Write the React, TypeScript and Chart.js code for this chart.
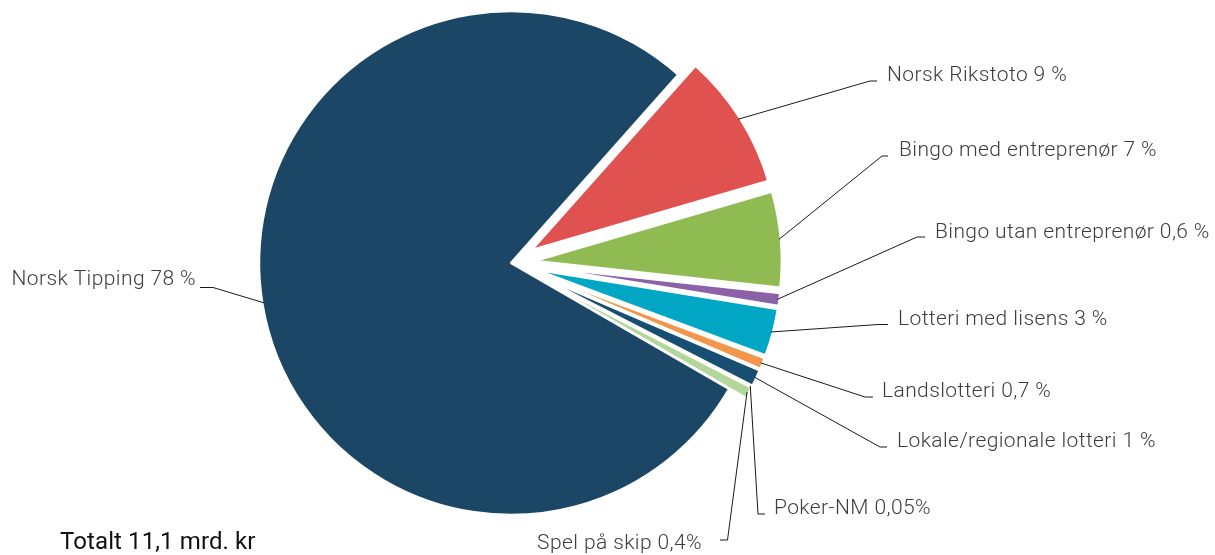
import { useEffect, useRef } from "react";
import { Chart, registerables } from "chart.js";

Chart.register(...registerables);

// ---- data (slice sizes) ----
const categories = [
  "Norsk Rikstoto",
  "Bingo med entreprenør",
  "Bingo utan entreprenør",
  "Lotteri med lisens",
  "Landslotteri",
  "Lokale/regionale lotteri",
  "Poker-NM",
  "Spel på skip",
  "Norsk Tipping",
];
const shares = [8.9, 6.25, 0.85, 3.1, 0.75, 1.1, 0.05, 0.75, 78.2];
const labelTexts = [
  "Norsk Rikstoto 9 %",
  "Bingo med entreprenør 7 %",
  "Bingo utan entreprenør 0,6 %",
  "Lotteri med lisens 3 %",
  "Landslotteri 0,7 %",
  "Lokale/regionale lotteri 1 %",
  "Poker-NM 0,05%",
  "Spel på skip 0,4%",
  "Norsk Tipping 78 %",
];
const totalText = "Totalt 11,1 mrd. kr";

// ---- styles / layout ----
const sliceColors = [
  "#e0524f",
  "#8fbb52",
  "#8b62a8",
  "#00a6c4",
  "#f3954a",
  "#174e72",
  "#555555",
  "#b5d69b",
  "#1c4665",
];
const explodeBy = [24, 24, 24, 24, 24, 24, 24, 24, 0];
const BIG_RADIUS = 252;
const SMALL_RADIUS = 247;

type Lbl = { elbow: [number, number]; end: [number, number]; tx: number; ty: number; align: CanvasTextAlign };
const labelLayout: Lbl[] = [
  { elbow: [870, 81], end: [877, 81], tx: 887, ty: 81, align: "left" },
  { elbow: [882, 156], end: [888, 156], tx: 899, ty: 156, align: "left" },
  { elbow: [917, 237], end: [925, 237], tx: 935, ty: 238, align: "left" },
  { elbow: [878, 324.5], end: [888, 324.5], tx: 898, ty: 325, align: "left" },
  { elbow: [865, 397], end: [873, 397], tx: 882, ty: 397, align: "left" },
  { elbow: [880, 447], end: [887, 447], tx: 897, ty: 447, align: "left" },
  { elbow: [758, 514], end: [765, 514], tx: 774, ty: 514, align: "left" },
  { elbow: [727.5, 540], end: [720, 540], tx: 702, ty: 549, align: "right" },
  { elbow: [213, 287.5], end: [200, 287.5], tx: 196, ty: 285, align: "right" },
];

const LABEL_FONT = "300 21px Roboto, 'Noto Sans', sans-serif";
const TOTAL_FONT = "400 24px Roboto, 'Noto Sans', sans-serif";

const explodePlugin = {
  id: "explodeSlices",
  afterDatasetUpdate(chart: any, args: any) {
    const meta = chart.getDatasetMeta(args.index);
    meta.data.forEach((arc: any, i: number) => {
      const d = explodeBy[i] || 0;
      if (!d) return;
      const mid = (arc.startAngle + arc.endAngle) / 2;
      arc.x += Math.cos(mid) * d;
      arc.y += Math.sin(mid) * d;
      arc.outerRadius = SMALL_RADIUS;
    });
  },
};

const labelPlugin = {
  id: "leaderLabels",
  afterDraw(chart: any) {
    const ctx: any = chart.ctx;
    const meta = chart.getDatasetMeta(0);
    ctx.save();
    meta.data.forEach((arc: any, i: number) => {
      const lay = labelLayout[i];
      if (!lay) return;
      const mid = (arc.startAngle + arc.endAngle) / 2;
      const r = arc.outerRadius - 2;
      const sx = arc.x + Math.cos(mid) * r;
      const sy = arc.y + Math.sin(mid) * r;
      ctx.beginPath();
      ctx.strokeStyle = "#1a1a1a";
      ctx.lineWidth = 1;
      ctx.moveTo(sx, sy);
      ctx.lineTo(lay.elbow[0], lay.elbow[1]);
      ctx.lineTo(lay.end[0], lay.end[1]);
      ctx.stroke();
      ctx.font = LABEL_FONT;
      ctx.letterSpacing = "0.4px";
      ctx.fillStyle = "#3d3d3d";
      ctx.textAlign = lay.align;
      ctx.textBaseline = "alphabetic";
      ctx.fillText(labelTexts[i], lay.tx, lay.ty);
    });
    ctx.font = TOTAL_FONT;
    ctx.letterSpacing = "0.1px";
    ctx.fillStyle = "#111111";
    ctx.textAlign = "left";
    ctx.textBaseline = "alphabetic";
    ctx.fillText(totalText, 60, 549);
    ctx.restore();
  },
};

export default function App() {
  const ref = useRef<HTMLCanvasElement | null>(null);
  useEffect(() => {
    if (!ref.current) return;
    const chart = new Chart(ref.current, {
      type: "pie",
      data: {
        labels: categories,
        datasets: [
          {
            data: shares,
            backgroundColor: sliceColors,
            borderColor: "#ffffff",
            borderWidth: 2.5,
          },
        ],
      },
      options: {
        responsive: false,
        animation: false,
        events: [],
        radius: BIG_RADIUS,
        rotation: 41.65,
        layout: { padding: { left: 0, right: 193, top: 0, bottom: 29 } },
        plugins: {
          legend: { display: false },
          tooltip: { enabled: false },
          title: { display: false },
        },
      } as any,
      plugins: [explodePlugin, labelPlugin],
    });
    return () => chart.destroy();
  }, []);
  return (
    <div style={{ position: "absolute", left: 0, top: 0, width: 1215, height: 555, background: "#fff" }}>
      <canvas ref={ref} width={1215} height={555} style={{ display: "block", width: 1215, height: 555 }} />
    </div>
  );
}
